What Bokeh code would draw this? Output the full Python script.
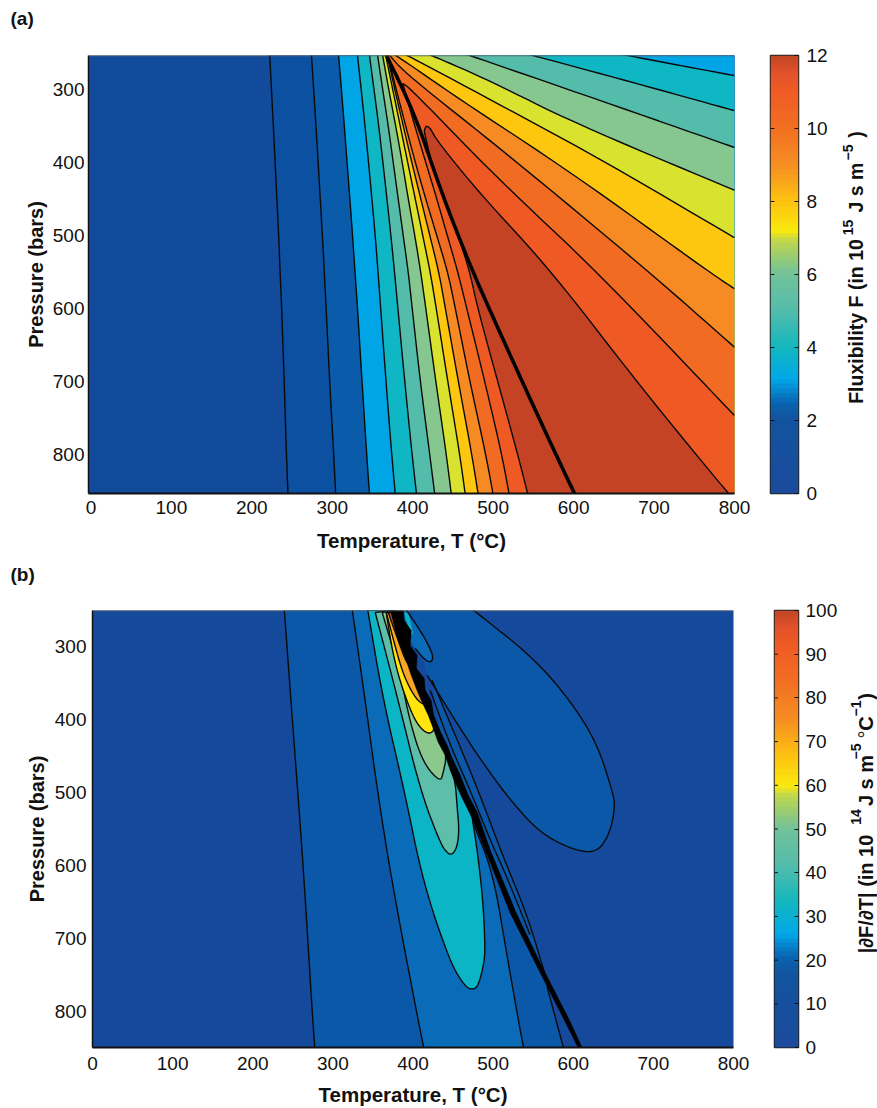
from math import pi
import numpy as np
from bokeh.core.properties import value
from bokeh.embed import file_html
from bokeh.layouts import column, row
from bokeh.models import FixedTicker, Range1d, Span
from bokeh.plotting import figure
from bokeh.resources import INLINE

FONT = "Liberation Sans"
T_TICKS = [0, 100, 200, 300, 400, 500, 600, 700, 800]
P_TICKS = [300, 400, 500, 600, 700, 800]
F_TICKS = [0, 2, 4, 6, 8, 10, 12]
G_TICKS = [0, 10, 20, 30, 40, 50, 60, 70, 80, 90, 100]

# ---------- panel (a): contours of flexibility, T at given P
P_ROWS = [250, 300, 350, 400, 450, 500, 550, 600, 700, 800, 860]
A_L1 = [222.2, 224.4, 226.8, 229, 231.2, 233.4, 235.2, 237.1, 240.3, 243, 245.2]
A_L2 = [274, 276.9, 279.8, 282.5, 285.1, 287.8, 290.1, 292.4, 296.8, 301.8, 304.5]
A_L3 = [307.6, 311.4, 315, 318.4, 321.9, 325.2, 328.3, 331.4, 337, 342.8, 346.6]
A_L4 = [331, 336, 340.7, 345.1, 349.3, 353.4, 356.9, 360.2, 366.8, 373.9, 378.8]
A_L5 = [345.9, 351.9, 357.8, 363, 368, 372.9, 377.4, 381.6, 390.1, 399.2, 405.3]
A_L6 = [355.9, 362.7, 369.6, 375.8, 382, 388.2, 394.5, 399.4, 409.4, 421.2, 428]
A_L7 = [362.1, 370.2, 378.9, 387, 394.5, 402.6, 410, 416.3, 428.7, 441.8, 448.6]
A_L8 = [365.8, 375.2, 384.5, 393.8, 403.2, 412.5, 421.8, 429.3, 443.6, 458.5, 466]
A_L9 = [367.7, 377.7, 388.3, 398.9, 410.1, 421.3, 432.5, 440.6, 456.7, 473.5, 482.2]
A_L10 = [368.3, 379.5, 391.3, 403.2, 416.2, 429.9, 443.6, 453, 471, 490.9, 500.8]
A_THICK = [365.8, 388.2, 407.5, 423.1, 439.1, 456.6, 475, 495, 536, 578, 604]
A_L11_T = [387.6, 402.6, 416.3, 430, 443, 456.1, 467.2, 489.6, 510.8, 520.8]
A_L11_P = [291.7, 350, 400, 450, 500, 550, 600, 700, 800, 860]
A_L12_T = [417, 414, 416, 423.1, 439.1, 456.6, 471, 480.8, 505.7, 530.6, 544.3]
A_L12_P = [350, 356, 365, 400, 450, 500, 550, 600, 700, 800, 860]

A_R2_T = [651, 732, 800]; A_R2_P = [250, 267, 281]
A_R3_T = [538, 674, 800]; A_R3_P = [250, 290.4, 329]
A_R4_T = [462, 633, 800]; A_R4_P = [250, 315, 379.4]
A_R5_T = [414, 424, 496, 599, 800]; A_R5_P = [250, 253.4, 288, 345, 438]
A_R6_T = [386, 394, 517, 641, 800]; A_R6_P = [250, 253.4, 326, 400, 503]
A_R7_T = [372, 380, 455, 599, 766, 800]; A_R7_P = [250, 253.4, 311, 415, 548, 573]
A_R8_T = [368, 371.5, 391, 517, 692, 800]; A_R8_P = [250, 253.4, 278, 388, 548, 653]
A_R9_T = [387.6, 397, 508, 628, 800]; A_R9_P = [291.7, 298.6, 424.6, 548, 746.6]
A_R10_T = [417, 422, 430, 483, 572, 682, 792, 799.5]; A_R10_P = [350, 353, 370, 442, 548, 705.5, 853.4, 860]

A_COLORS = ["#0c50a2", "#0a5cab", "#00a5e6", "#0fb7c4", "#53bcab", "#85c78f",
            "#d9e22e", "#fdc60f", "#f58b22", "#f16b23", "#ef5a24", "#c54325"]
A_BG = "#124a9c"

# ---------- panel (b)
B_L1_T = [239.4, 249.4, 263.1, 276.8, 279.3]; B_L1_P = [250, 400, 600, 847.8, 860]
B_L2_T = [324.2, 341.6, 355.4, 375.3, 412.7, 416]; B_L2_P = [250, 384, 496.7, 633.3, 847.8, 860]
B_C_T = [540.5, 537.4, 517.5, 500, 475]; B_C_P = [860, 847.8, 724.8, 610, 541.8]
B_D_T = [590.5, 587.3, 567.3]; B_D_P = [860, 847.8, 765.8]
B_MID_T = [558.6, 524.9, 492.5, 465.1, 433.9, 412.7, 377.8]
B_MID_P = [738.5, 664.7, 578.7, 510.4, 418.8, 360, 250]

B_TEAL_T = [343.5, 362.8, 389, 412.7, 446.4, 465.1, 473.8, 481.3, 488.8, 490, 487.5, 481.3, 473.8]
B_TEAL_P = [250, 373.8, 496.7, 623.8, 733, 765.8, 770, 765.8, 733, 711.2, 651, 588.2, 533.6]
B_TG_T = [352.9, 381.5, 409, 433.9, 442.6, 448.9, 455.1, 457.6, 455.1, 452.6, 440.1, 412.7, 377.8]
B_TG_P = [253.5, 373.8, 496.7, 569.1, 582.8, 585.5, 574.5, 551.3, 520, 483, 435.2, 360, 250]
B_GR_T = [361.6, 384, 396.5, 412.7, 433.9, 437.7, 442.6, 425.2, 400, 377.8]
B_GR_P = [253.5, 336.9, 405.2, 459.8, 485.8, 473.4, 446.1, 397, 320, 250]
B_YE_T = [366.6, 374.1, 384, 400.2, 411.5, 421.5, 427.7, 419, 394, 381.5, 374.1]
B_YE_P = [253.5, 305.4, 349.1, 397, 414.7, 420.2, 412, 387.4, 330, 271.3, 253.5]
B_GO_T = [366.6, 384, 394, 405.2, 415.2, 417.7, 406.5, 396.5, 384, 372.8]
B_GO_P = [253.5, 325.9, 353.2, 373.8, 380.6, 376.5, 356, 330, 298.6, 253.5]
B_BR_T = [369.1, 381.5, 391.5, 396.5, 387.8, 375.3]
B_BR_P = [253.5, 291.8, 321.8, 324.6, 291.8, 253.5]

B_BIG_T = [475, 549.9, 596, 629.7, 649.6, 652.1, 645.9, 629.7, 599.8, 558.6, 521.2, 487.5, 462.6, 417.7]
B_BIG_P = [250, 315, 373.8, 432.5, 500.8, 520, 555.5, 582.8, 578.7, 555.5, 510.4, 459.8, 418.8, 339.6]
B_BIG_CLOSE_T = [396.5]; B_BIG_CLOSE_P = [250]
B_SMALL_T = [391.5, 409, 421.5, 425.2, 422.7, 415.2, 402.7]
B_SMALL_P = [250, 278, 302.7, 315, 321.8, 319, 302.7]
B_SLIVER_T = [389, 394, 400.2, 396.5]; B_SLIVER_P = [253.5, 253.5, 282, 285]
B_W1_T = [423.9, 452.6, 481.3, 512.5, 542.4, 564.8]
B_W1_P = [346.4, 421.5, 496.7, 588.2, 667.4, 749.4]
B_W2_T = [421.5, 446.4, 471.3, 496.3, 518.7, 546.1]
B_W2_P = [360.1, 435.2, 496.7, 565, 619.6, 694.8]
B_BAND_T = [371.6, 376.6, 381.7, 386.7, 392.8, 397.8, 404, 410.2, 419, 425.2, 431.4, 440.1, 446.4, 453.9,
            462.6, 473.8, 490, 521.2, 554.9, 588.5, 606, 610,
            616, 611, 594.8, 561.1, 528.7, 496.3, 480, 468.8, 458.9, 450.1, 442.6, 435.2, 426.4, 422.7,
            415.2, 414, 404, 405.2, 396.5, 397.8, 389, 387.8]
B_BAND_P = [250, 271.3, 291.8, 305.4, 323.2, 339.6, 357.4, 373.8, 394.2, 412, 431.1, 448.9, 469.4, 489.9,
            510.4, 535, 578.7, 664.7, 738.5, 810.9, 849.2, 860,
            860, 849.2, 810.9, 738.5, 664.7, 578.7, 526.7, 503.5, 476.2, 455.7, 435.2, 418.8, 398.3, 373.8,
            360.1, 343.7, 330, 312.3, 298.6, 278.1, 264.5, 250]

B_BG = "#14499b"
C_A = "#0b58a8"
C_B = "#0a6cb8"
C_TEAL = "#0cb5c6"
C_TG = "#5dbfaa"
C_GR = "#8ac88e"
C_YE = "#ffe40e"
C_GO = "#f8a623"
C_BR = "#c9582e"

# ---------- colour bars: stops (fraction of the scale) and colours
CB_F = [0, .17, .205, .235, .26, .333, .417, .5, .575, .6, .667, .75, .833, .917, .96, 1]
CB_A = ["#1b4a9c", "#12549f", "#0a62ae", "#0686d0", "#00a8ea", "#12b7be", "#53bcab", "#72c29a", "#bcd650",
        "#fbe90e", "#fdc210", "#f68e22", "#f27022", "#ef5b24", "#e2522a", "#c04525"]
CB_STEPS = 96
INK = "#111111"


def hexrgb(c):
    return [int(c[i:i + 2], 16) for i in (1, 3, 5)]


def colorbar_palette():
    f = (np.arange(CB_STEPS) + .5) / CB_STEPS
    rgb = np.array([hexrgb(c) for c in CB_A], float)
    chan = [np.interp(f, CB_F, rgb[:, i]).round().astype(int) for i in range(3)]
    return ["#%02x%02x%02x" % (r, g, b) for r, g, b in zip(*chan)]


def smooth(xs, ys, n=3):
    pts = np.column_stack([xs, ys]).astype(float)
    for _ in range(n):
        q = .75 * pts[:-1] + .25 * pts[1:]
        r = .25 * pts[:-1] + .75 * pts[1:]
        mid = np.empty((2 * len(q), 2))
        mid[0::2] = q
        mid[1::2] = r
        pts = np.vstack([pts[:1], mid, pts[-1:]])
    return pts[:, 0].tolist(), pts[:, 1].tolist()


def main_fig(w, h, left, right, top, bottom, xr, yr, bg, stand_x, stand_y):
    p = figure(width=w, height=h, x_range=Range1d(*xr), y_range=Range1d(*yr), toolbar_location=None,
               output_backend="svg", min_border_left=left, min_border_right=right, min_border_top=top,
               min_border_bottom=bottom, background_fill_color=bg, border_fill_color="white",
               outline_line_color=None)
    p.grid.visible = False
    p.xaxis.ticker = FixedTicker(ticks=T_TICKS)
    p.yaxis.ticker = FixedTicker(ticks=P_TICKS)
    p.xaxis.axis_label = "Temperature, T (\u00b0C)"
    p.yaxis.axis_label = "Pressure (bars)"
    for ax, ts in ((p.xaxis[0], stand_x), (p.yaxis[0], stand_y)):
        ax.major_tick_line_color = None
        ax.minor_tick_line_color = None
        ax.major_tick_in = 0
        ax.major_tick_out = 0
        ax.minor_tick_in = 0
        ax.minor_tick_out = 0
        ax.axis_line_color = INK
        ax.major_label_text_font = FONT
        ax.major_label_text_font_size = "19px"
        ax.major_label_text_color = INK
        ax.axis_label_text_font = FONT
        ax.axis_label_text_font_style = "bold"
        ax.axis_label_text_color = INK
        ax.major_label_standoff = ts[0]
        ax.axis_label_standoff = ts[1]
    p.xaxis.axis_label_text_font_size = "20.5px"
    p.yaxis.axis_label_text_font_size = "20px"
    p.xaxis.axis_line_width = 2
    p.yaxis.axis_line_width = 1.5
    p.yaxis.major_label_orientation = "horizontal"
    p.add_layout(Span(location=yr[1], dimension="width", line_color="#666666", line_width=1.5))
    return p


def colorbar_fig(w, h, left, right, top, bottom, vmax, ticks, stand):
    p = figure(width=w, height=h, x_range=Range1d(0, 1), y_range=Range1d(0, vmax), toolbar_location=None,
               output_backend="svg", x_axis_location=None, y_axis_location="right",
               min_border_left=left, min_border_right=right, min_border_top=top, min_border_bottom=bottom,
               outline_line_color="#222222", outline_line_width=1.5, border_fill_color="white")
    p.grid.visible = False
    img = np.arange(CB_STEPS).reshape(CB_STEPS, 1)
    p.image(image=[img], x=0, y=0, dw=1, dh=vmax, palette=colorbar_palette())
    ax = p.yaxis[0]
    ax.ticker = FixedTicker(ticks=ticks)
    ax.axis_line_color = None
    ax.major_tick_in = 4
    ax.major_tick_out = 0
    ax.major_tick_line_color = INK
    ax.minor_tick_line_color = None
    ax.minor_tick_in = 0
    ax.minor_tick_out = 0
    ax.major_label_text_font = FONT
    ax.major_label_text_font_size = "19px"
    ax.major_label_text_color = INK
    ax.major_label_standoff = stand
    ax.major_label_orientation = "horizontal"
    inner = [t for t in ticks if 0 < t < vmax]
    p.segment(x0=0, x1=.14, y0=inner, y1=inner, line_color=INK, line_width=1)
    return p


def text_fig(w, h, x0, y0, top=0):
    """Blank strip whose data coordinates are page pixels, used for free-standing texts."""
    fh = h - top
    p = figure(width=w, height=h, frame_width=w, frame_height=fh, x_range=Range1d(x0, x0 + w),
               y_range=Range1d(y0 + h, y0 + top), toolbar_location=None,
               output_backend="svg", x_axis_location=None, y_axis_location=None,
               min_border=0, min_border_left=0, min_border_right=0, min_border_top=top, min_border_bottom=0,
               outline_line_color=None, border_fill_color="white", background_fill_color="white")
    p.grid.visible = False
    return p


def put(p, x, y, text, size=20, angle=0.0, style="bold", align="left"):
    p.text(x=[x], y=[y], text=[text], text_font=value(FONT), text_font_size=f"{size}px", text_font_style=style,
           text_color=INK, angle=angle, text_align=align, text_baseline="middle")


def vput(p, x, y, text, size=20, style="bold"):
    put(p, x, y, text, size=size, angle=pi / 2, style=style, align="center")


CB_RIGHT = 840
W_MAIN = 760
W_CB = CB_RIGHT - W_MAIN
W_TXT = 877 - CB_RIGHT
TOP = 16
HDR_A, H_A = 39, 517
HDR_B, H_B = 38, 514

# ---------- panel (a)
pa = main_fig(W_MAIN, H_A, 88, 26, TOP, 63, (-3, 800), (853.4, 253.4), A_BG, (7, 12), (4, 3))
lefts = [(A_L1, P_ROWS), (A_L2, P_ROWS), (A_L3, P_ROWS), (A_L4, P_ROWS), (A_L5, P_ROWS), (A_L6, P_ROWS),
         (A_L7, P_ROWS), (A_L8, P_ROWS), (A_L9, P_ROWS), (A_L10, P_ROWS), (A_L11_T, A_L11_P), (A_L12_T, A_L12_P)]
rights = [None, None, None, (A_R2_T, A_R2_P), (A_R3_T, A_R3_P), (A_R4_T, A_R4_P), (A_R5_T, A_R5_P),
          (A_R6_T, A_R6_P), (A_R7_T, A_R7_P), (A_R8_T, A_R8_P), (A_R9_T, A_R9_P), (A_R10_T, A_R10_P)]
lefts = [smooth(*c) for c in lefts]
rights = [None if c is None else smooth(*c) for c in rights]
for (lt, lp), r, col in zip(lefts, rights, A_COLORS):
    if r is None:
        xs = lt + [800, 800]
        ys = lp + [860, 250]
    else:
        xs = lt + [800] + r[0][::-1]
        ys = lp + [860] + r[1][::-1]
    pa.patch(xs, ys, fill_color=col, line_color=None)
for (lt, lp) in lefts:
    pa.line(lt, lp, line_color="#0a0a0a", line_width=1.4)
for r in rights:
    if r is not None:
        pa.line(r[0], r[1], line_color="#0a0a0a", line_width=1.4)
pa.line(*smooth(A_THICK, P_ROWS), line_color="#000000", line_width=3.6)

cba = colorbar_fig(W_CB, H_A, 10, W_CB - 38, TOP, 63, 12, F_TICKS, 8)
tay = text_fig(W_TXT, H_A, CB_RIGHT, HDR_A, top=TOP)
vput(tay, 855, 321, "Fluxibility F (in 10", size=19.5)
vput(tay, 847, 227, "15", size=14)
vput(tay, 855, 187, "J s m", size=19.5)
vput(tay, 847, 152, "\u22125", size=14)
vput(tay, 855, 134, ")", size=19.5)
hdr_a = text_fig(877, HDR_A, 0, 0)
put(hdr_a, 10, 18, "(a)", size=19)

# ---------- panel (b)
pb = main_fig(W_MAIN, H_B, 92, 27, TOP, 60, (0, 800), (849.2, 250.8), B_BG, (9, 10), (6, 4))
L = "#0a0a0a"
l1 = smooth(B_L1_T, B_L1_P)
l2 = smooth(B_L2_T, B_L2_P)
c_ = smooth(B_C_T, B_C_P)
d_ = smooth(B_D_T, B_D_P)
big = smooth(B_BIG_T, B_BIG_P)
small = smooth(B_SMALL_T, B_SMALL_P)
w1 = smooth(B_W1_T, B_W1_P)
w2 = smooth(B_W2_T, B_W2_P)
teal = smooth(B_TEAL_T, B_TEAL_P)
# levels left of the ridge
pb.patch(l1[0] + d_[0] + B_MID_T, l1[1] + d_[1] + B_MID_P, fill_color=C_A, line_color=None)
pb.patch(l2[0] + c_[0] + B_MID_T[3:], l2[1] + c_[1] + B_MID_P[3:], fill_color=C_B, line_color=None)
# region right of the ridge
pb.patch(big[0] + B_BIG_CLOSE_T, big[1] + B_BIG_CLOSE_P, fill_color=C_A, line_color=None)
pb.patch(w1[0] + B_MID_T[:5], w1[1] + B_MID_P[:5], fill_color=C_A, line_color=None)
pb.patch(small[0] + [384], small[1] + [271], fill_color=C_B, line_color=None)
pb.patch(B_SLIVER_T, B_SLIVER_P, fill_color=C_TEAL, line_color=None)
# closed lobes
pb.patch(teal[0] + B_MID_T[3:], teal[1] + B_MID_P[3:], fill_color=C_TEAL, line_color=L, line_width=1.4)
for lt, lp, col in [(B_TG_T, B_TG_P, C_TG), (B_GR_T, B_GR_P, C_GR), (B_YE_T, B_YE_P, C_YE),
                    (B_GO_T, B_GO_P, C_GO), (B_BR_T, B_BR_P, C_BR)]:
    sx, sy = smooth(lt, lp)
    pb.patch(sx, sy, fill_color=col, line_color=L, line_width=1.4)
for lt, lp in [l1, l2, c_, d_, big, small, w1, w2]:
    pb.line(lt, lp, line_color=L, line_width=1.4)
pb.patch(B_BAND_T, B_BAND_P, fill_color="#000000", line_color="#000000", line_width=.5)

cbb = colorbar_fig(W_CB, H_B, 14, W_CB - 43, TOP, 60, 100, G_TICKS, 7)
tby = text_fig(W_TXT, H_B, CB_RIGHT, 556 + HDR_B, top=TOP)
vput(tby, 865, 893.5, "|\u2202F/\u2202T| (in 10")
vput(tby, 855, 816.5, "14", size=14)
vput(tby, 865, 780, "J s m")
vput(tby, 855, 751, "\u22125", size=14)
vput(tby, 865, 734, "\u00b0", style="normal")
vput(tby, 865, 723, "C")
vput(tby, 855, 708, "\u22121", size=14)
vput(tby, 865, 696, ")")
hdr_b = text_fig(877, HDR_B, 0, 556)
put(hdr_b, 10, 574, "(b)", size=19)

layout = column(hdr_a, row(pa, cba, tay), hdr_b, row(pb, cbb, tby))
open("out.html", "w").write(file_html(layout, INLINE))
